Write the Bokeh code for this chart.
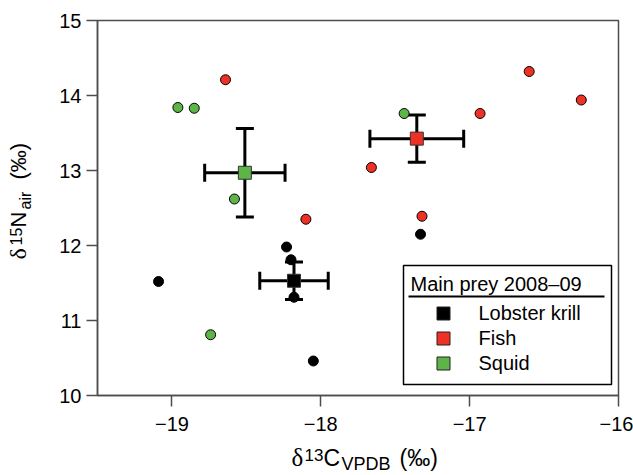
import math
from bokeh.plotting import figure
from bokeh.layouts import row, column
from bokeh.models import (ColumnDataSource, Whisker, TeeHead, Label, BoxAnnotation,
                          FixedTicker, CustomJSTickFormatter, Range1d)
from bokeh.embed import file_html
from bokeh.resources import INLINE

# ---------------- data ----------------
krill_x = [-19.09, -18.23, -18.20, -18.18, -18.05, -17.33]
krill_y = [11.52, 11.98, 11.81, 11.31, 10.46, 12.15]
fish_x = [-18.64, -18.10, -17.66, -17.32, -16.93, -16.60, -16.25]
fish_y = [14.21, 12.35, 13.04, 12.39, 13.76, 14.32, 13.94]
squid_x = [-18.96, -18.85, -18.58, -18.74, -17.44]
squid_y = [13.84, 13.83, 12.62, 10.81, 13.76]

groups = ["Lobster krill", "Fish", "Squid"]
colors = ["#000000", "#EE3124", "#5DB547"]
mean_x = [-18.18, -17.355, -18.51]
mean_y = [11.53, 13.425, 12.97]
sd_x = [0.23, 0.315, 0.27]
sd_y = [0.25, 0.315, 0.59]

x_ticks = [-19, -18, -17, -16]
y_ticks = [10, 11, 12, 13, 14, 15]
legend_title = "Main prey 2008\u201309"

FONT = "Liberation Sans"
SERIF = "Liberation Serif"
W, H = 633, 475
LEFT_W = 45          # strip holding the y-axis title
BOT_H = 32           # strip holding the x-axis title
FL, FB = 97, 395     # main frame left / bottom on the canvas

main_w = W - LEFT_W
main_h = H - BOT_H

p = figure(width=main_w, height=main_h, frame_width=521, frame_height=375,
           x_range=Range1d(-19.5, -16), y_range=Range1d(10, 15),
           output_backend="svg", toolbar_location=None,
           min_border_left=FL - LEFT_W, min_border_right=15, min_border_top=20,
           min_border_bottom=main_h - 20 - 375,
           background_fill_color="white", border_fill_color="white")
p.grid.visible = False
p.outline_line_color = "#4d4d4d"
p.outline_line_width = 1.5

p.xaxis.ticker = FixedTicker(ticks=x_ticks)
p.yaxis.ticker = FixedTicker(ticks=y_ticks)
fmt = "return tick < 0 ? '\u2212' + Math.abs(tick) : tick.toString();"
p.xaxis.formatter = CustomJSTickFormatter(code=fmt)
p.yaxis.formatter = CustomJSTickFormatter(code=fmt)
for ax in (p.xaxis, p.yaxis):
    ax.major_tick_out = 11
    ax.major_tick_in = 0
    ax.minor_tick_line_color = None
    ax.axis_line_color = "#4d4d4d"
    ax.axis_line_width = 1.5
    ax.major_tick_line_color = "#4d4d4d"
    ax.major_tick_line_width = 1.5
    ax.major_label_text_font = FONT
    ax.major_label_text_font_size = "20px"
    ax.major_label_text_color = "black"
p.xaxis.major_label_standoff = 10
p.yaxis.major_label_standoff = 5

# ---------------- points ----------------
p.scatter(krill_x, krill_y, marker="circle", size=10, fill_color=colors[0],
          line_color="black", line_width=1)
p.scatter(fish_x, fish_y, marker="circle", size=10, fill_color=colors[1],
          line_color="black", line_width=1)
p.scatter(squid_x, squid_y, marker="circle", size=10, fill_color=colors[2],
          line_color="black", line_width=1)

src = ColumnDataSource(dict(
    mx=mean_x, my=mean_y, color=colors,
    xlo=[m - s for m, s in zip(mean_x, sd_x)], xhi=[m + s for m, s in zip(mean_x, sd_x)],
    ylo=[m - s for m, s in zip(mean_y, sd_y)], yhi=[m + s for m, s in zip(mean_y, sd_y)],
))

def tee():
    return TeeHead(size=18, line_width=3, line_color="black")

p.add_layout(Whisker(source=src, base="my", lower="xlo", upper="xhi", dimension="width",
                     line_width=3, line_color="black", upper_head=tee(), lower_head=tee()))
p.add_layout(Whisker(source=src, base="mx", lower="ylo", upper="yhi", dimension="height",
                     line_width=3, line_color="black", upper_head=tee(), lower_head=tee()))

p.scatter("mx", "my", source=src, marker="square", size=13, fill_color="color",
          line_color="#333333", line_width=1, level="overlay")

# ---------------- text helper ----------------
# fig: target figure; (ox, oy) = its frame's bottom-left on the canvas
def lab(fig, ox, oy, text, cx, cy, size, rotated=False, font=FONT):
    corr = 0.4 * size
    if rotated:
        x, y = cx - ox - corr, oy - cy
    else:
        x, y = cx - ox, oy - cy + corr
    fig.add_layout(Label(x=x, y=y, x_units="screen", y_units="screen",
                         text=text, text_font=font, text_font_size=f"{size}px",
                         angle=math.pi / 2 if rotated else 0.0,
                         text_align="left", text_baseline="alphabetic",
                         text_color="black"))

def strip(w, h):
    f = figure(width=w, height=h, x_range=Range1d(0, w), y_range=Range1d(0, h),
               x_axis_location=None, y_axis_location=None, min_border=0,
               output_backend="svg", toolbar_location=None,
               background_fill_color="white", border_fill_color="white")
    f.outline_line_color = None
    f.grid.visible = False
    return f

# y-axis title strip: δ15N_air (‰)
left = strip(LEFT_W, H)
lab(left, 0, H, "\u03b4", 27, 259, 24, rotated=True, font=SERIF)
lab(left, 0, H, "15", 22, 245, 16, rotated=True)
lab(left, 0, H, "N", 27, 227, 22, rotated=True)
lab(left, 0, H, "air", 31, 209, 16, rotated=True)
lab(left, 0, H, "(\u2030)", 27, 179, 22, rotated=True)

# x-axis title strip: δ13C_VPDB (‰)  (its frame is aligned with the main frame)
bottom = strip(main_w, BOT_H)
lab(bottom, FL, H, "\u03b4", 291, 467, 25, font=SERIF)
lab(bottom, FL, H, "13", 304, 461, 17)
lab(bottom, FL, H, "C", 323, 467, 23)
lab(bottom, FL, H, "VPDB", 341, 471, 18)
lab(bottom, FL, H, "(\u2030)", 399, 467, 23)

# ---------------- legend ----------------
def sbox(l, r, t, b, **kw):
    p.add_layout(BoxAnnotation(left=l - FL, right=r - FL, top=FB - t, bottom=FB - b,
                               left_units="screen", right_units="screen",
                               top_units="screen", bottom_units="screen", **kw))

sbox(403, 611, 265, 384, fill_color="white", fill_alpha=1.0,
     line_color="black", line_width=1.5, line_alpha=1.0)
lab(p, FL, FB, legend_title, 410, 291, 20)
sbox(408, 604, 295, 297, fill_color="black", fill_alpha=1.0, line_color=None)
for i, (g, c) in enumerate(zip(groups, colors)):
    cy = 313 + 25 * i
    sbox(436.5, 449.5, cy - 6.5, cy + 6.5, fill_color=c, fill_alpha=1.0,
         line_color="#222222", line_width=1, line_alpha=1.0)
    lab(p, FL, FB, g, 478, cy + 7, 20)

layout = row(left, column(p, bottom, spacing=0), spacing=0)
open("out.html", "w").write(file_html(layout, INLINE))
